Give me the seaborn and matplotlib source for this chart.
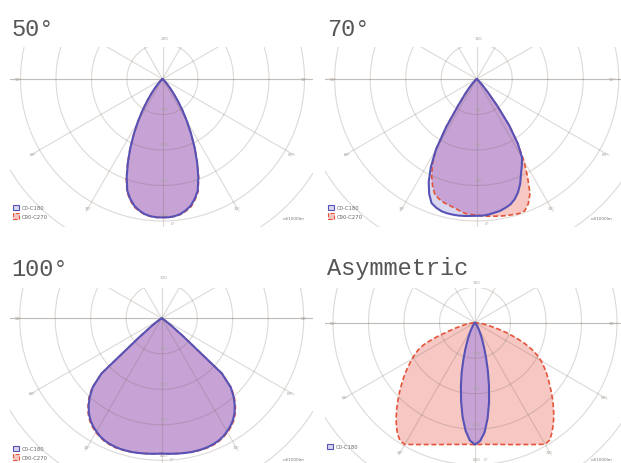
import numpy as np
import matplotlib.pyplot as plt
import seaborn as sns
from matplotlib.patches import Patch

# polar gamma angles (deg, 0 = straight down), intensities in cd/klm
gamma = [0, 2.5, 5, 7.5, 10, 12.5, 15, 17.5, 20, 22.5, 25, 27.5, 30, 32.5, 35, 37.5,
         40, 42.5, 45, 47.5, 50, 52.5, 55, 57.5, 60, 62.5, 65, 67.5, 70, 72.5, 75,
         77.5, 80, 82.5, 85, 87.5, 90]

titles = ["50°", "70°", "100°", "Asymmetric"]
ring_steps = [200, 150, 100, 150]

# 50° optic
p50_c0 = [780, 780, 776, 768, 752, 732, 700, 660, 590, 510, 430, 350, 276, 210, 150, 100,
          64, 38, 20, 10, 4, 0, 0, 0, 0, 0, 0, 0, 0, 0, 0, 0, 0, 0, 0, 0, 0]
p50_c180 = [780, 780, 776, 768, 752, 732, 700, 660, 590, 510, 430, 350, 276, 210, 150, 100,
            64, 38, 20, 10, 4, 0, 0, 0, 0, 0, 0, 0, 0, 0, 0, 0, 0, 0, 0, 0, 0]
p50_c90 = [780, 780, 777, 770, 756, 738, 706, 666, 596, 514, 432, 350, 276, 210, 150, 100,
           64, 38, 20, 10, 4, 0, 0, 0, 0, 0, 0, 0, 0, 0, 0, 0, 0, 0, 0, 0, 0]
p50_c270 = [780, 780, 777, 770, 756, 738, 706, 666, 596, 514, 432, 350, 276, 210, 150, 100,
            64, 38, 20, 10, 4, 0, 0, 0, 0, 0, 0, 0, 0, 0, 0, 0, 0, 0, 0, 0, 0]

# 70° optic
p70_c0 = [578, 578, 575, 570, 566, 558, 549, 533, 510, 480, 443, 413, 383, 323, 240, 143,
          75, 38, 18, 9, 5, 0, 0, 0, 0, 0, 0, 0, 0, 0, 0, 0, 0, 0, 0, 0, 0]
p70_c180 = [578, 579, 581, 582, 582, 581, 578, 570, 558, 525, 480, 420, 345, 240, 135, 83,
            53, 30, 15, 8, 3, 0, 0, 0, 0, 0, 0, 0, 0, 0, 0, 0, 0, 0, 0, 0, 0]
p70_c90 = [578, 579, 582, 585, 588, 591, 593, 596, 593, 570, 533, 465, 398, 323, 240, 143,
           75, 38, 18, 9, 5, 0, 0, 0, 0, 0, 0, 0, 0, 0, 0, 0, 0, 0, 0, 0, 0]
p70_c270 = [575, 573, 570, 561, 552, 546, 540, 531, 518, 488, 450, 405, 345, 240, 135, 83,
            53, 30, 15, 8, 3, 0, 0, 0, 0, 0, 0, 0, 0, 0, 0, 0, 0, 0, 0, 0, 0]

# 100° optic
p100_c0 = [381, 382, 383, 384, 385, 386, 386, 386, 385, 383, 380, 375, 368, 360, 350, 337,
           320, 300, 275, 230, 80, 35, 15, 7, 3, 0, 0, 0, 0, 0, 0, 0, 0, 0, 0, 0, 0]
p100_c180 = [381, 382, 383, 384, 385, 386, 386, 386, 385, 383, 380, 375, 368, 360, 350, 337,
             320, 300, 275, 230, 80, 35, 15, 7, 3, 0, 0, 0, 0, 0, 0, 0, 0, 0, 0, 0, 0]
p100_c90 = [381, 382, 383, 384, 385, 386, 387, 387, 387, 385, 382, 377, 371, 363, 353, 340,
            323, 303, 278, 232, 80, 35, 15, 7, 3, 0, 0, 0, 0, 0, 0, 0, 0, 0, 0, 0, 0]
p100_c270 = [381, 382, 383, 384, 385, 386, 387, 387, 387, 385, 382, 377, 371, 363, 353, 340,
             323, 303, 278, 232, 80, 35, 15, 7, 3, 0, 0, 0, 0, 0, 0, 0, 0, 0, 0, 0, 0]

# asymmetric optic
asym_c0 = [515, 500, 465, 408, 342, 273, 210, 155, 113, 83, 60, 42, 30, 21, 15, 9,
           6, 3, 0, 0, 0, 0, 0, 0, 0, 0, 0, 0, 0, 0, 0, 0, 0, 0, 0, 0, 0]
asym_c180 = [515, 498, 458, 402, 338, 275, 218, 163, 120, 86, 63, 44, 30, 21, 15, 9,
             6, 3, 0, 0, 0, 0, 0, 0, 0, 0, 0, 0, 0, 0, 0, 0, 0, 0, 0, 0, 0]
asym_c90 = [515, 515, 516, 519, 522, 527, 533, 540, 548, 557, 568, 580, 593, 588, 567, 543,
            518, 491, 465, 438, 413, 390, 368, 345, 323, 296, 263, 225, 180, 138, 98,
            66, 42, 26, 15, 8, 5]
asym_c270 = [515, 515, 516, 519, 522, 527, 533, 540, 548, 557, 568, 580, 594, 590, 572, 546,
             518, 489, 460, 432, 405, 380, 355, 330, 308, 285, 260, 225, 165, 112, 80,
             55, 38, 22, 12, 6, 3]

panels = [
    (p50_c0, p50_c180, p50_c90, p50_c270),
    (p70_c0, p70_c180, p70_c90, p70_c270),
    (p100_c0, p100_c180, p100_c90, p100_c270),
    (asym_c0, asym_c180, asym_c90, asym_c270),
]

BLUE = "#5752b5"
RED = "#e2553a"
BLUE_FILL = "#d9d7f0"
RED_FILL = "#f6c7c3"
MIX_FILL = "#c6a2d5"
GRID = (0.47, 0.42, 0.38, 0.25)
LABEL = "#aaa49e"

W, H = 621, 464
SCALE = 35.5  # px per ring
# left, right, top, bottom, centre x, centre y  (pixels)
rects = [
    (10, 313, 48, 228, 162.5, 80),
    (325, 621, 48, 228, 476.7, 80),
    (10, 313, 288.7, 464, 161.7, 319.3),
    (325, 621, 288.7, 464, 475, 323.7),
]
title_pos = [(11, 35.5), (327, 35.5), (11, 275.5), (327, 275.5)]
legend_pos = [(13, 206), (328, 206), (13, 447), (327, 445)]
legend_n = [2, 2, 2, 1]

sns.set_theme(style="white")
plt.rcParams["font.family"] = ["DejaVu Sans"]


def trace(right, left, step):
    g = np.radians(gamma)
    r = np.asarray(right, float) / step
    l = np.asarray(left, float) / step
    xs = np.concatenate([-l[::-1] * np.sin(g[::-1]), r[1:] * np.sin(g[1:])])
    ys = np.concatenate([-l[::-1] * np.cos(g[::-1]), -r[1:] * np.cos(g[1:])])
    return xs, ys


fig = plt.figure(figsize=(W / 100, H / 100), dpi=100)

for i, (data, rect) in enumerate(zip(panels, rects)):
    c0, c180, c90, c270 = data
    step = ring_steps[i]
    left, right, top, bottom, cx, cy = rect
    ax = fig.add_axes([left / W, 1 - bottom / H, (right - left) / W, (bottom - top) / H])
    x0, x1 = (left - cx) / SCALE, (right - cx) / SCALE
    y0, y1 = (cy - bottom) / SCALE, (cy - top) / SCALE
    ax.set_xlim(x0, x1)
    ax.set_ylim(y0, y1)
    ax.axis("off")

    # fills: red plane, blue plane, overlap
    bx, by = trace(c0, c180, step)
    rx, ry = trace(c90, c270, step)
    mx, my = trace(np.minimum(c0, c90), np.minimum(c180, c270), step)
    ax.fill(rx, ry, color=RED_FILL, lw=0, zorder=1)
    ax.fill(bx, by, color=BLUE_FILL, lw=0, zorder=1)
    ax.fill(mx, my, color=MIX_FILL, lw=0, zorder=1)

    # polar grid
    t = np.linspace(0, 2 * np.pi, 400)
    for k in range(1, 6):
        ax.plot(k * np.cos(t), k * np.sin(t), color=GRID, lw=0.8, zorder=2)
    for a in range(0, 360, 30):
        ar = np.radians(a)
        ax.plot([0, 4.3 * np.sin(ar)], [0, -4.3 * np.cos(ar)], color=GRID, lw=0.8, zorder=2)
        if a <= 90 or a >= 270:
            lab = a if a <= 180 else 360 - a
            px = np.clip(4.2 * np.sin(ar), x0 + 0.25, x1 - 0.25)
            py = -4.2 * np.cos(ar)
            if py < y0 + 0.12:
                # bottom label would fall off the crop: tuck it beside the 0° line
                py = y0 + 0.12
                px = px + 0.3
            ax.text(px, py, f"{lab}°", fontsize=3, color=LABEL,
                    ha="center", va="center", zorder=3)
    ax.plot([-6, 6], [0, 0], color=GRID, lw=0.8, zorder=2)
    for k in range(1, 5):
        ax.text(0.05, -k + 0.1, f"{k * step}", fontsize=3, color=LABEL,
                ha="center", va="bottom", zorder=3)
    ax.text(0.05, 1.1, f"{step}", fontsize=3, color=LABEL, ha="center", va="bottom", zorder=3)

    # outlines
    sns.lineplot(x=rx, y=ry, sort=False, estimator=None, ax=ax, color=RED, lw=1.2,
                 linestyle=(0, (3, 1.6)), legend=False, zorder=4)
    sns.lineplot(x=bx, y=by, sort=False, estimator=None, ax=ax, color=BLUE, lw=1.5,
                 legend=False, zorder=5)

    # unit label
    ax.text((right - 8 - cx) / SCALE, (cy - (top + 171)) / SCALE, "cd/1000lm",
            fontsize=3, color="#777777", ha="right", va="center", zorder=3)

    handles = [Patch(facecolor=BLUE_FILL, edgecolor=BLUE, linewidth=0.8),
               Patch(facecolor=RED_FILL, edgecolor=RED, linestyle="--", linewidth=0.8)]
    labels = ["C0-C180", "C90-C270"]
    lx, ly = legend_pos[i]
    fig.legend(handles[:legend_n[i]], labels[:legend_n[i]], loc="upper left",
               bbox_to_anchor=(lx / W, 1 - ly / H), bbox_transform=fig.transFigure,
               fontsize=3.8, frameon=False, handlelength=1.2, handleheight=1.2,
               borderpad=0, borderaxespad=0, labelspacing=0.5, handletextpad=0.5,
               labelcolor="#666666")

    tx, ty = title_pos[i]
    fig.text(tx / W, 1 - ty / H, titles[i], fontsize=17, color="#555555",
             family=["Liberation Mono", "DejaVu Sans Mono"], ha="left", va="baseline")

fig.savefig("out.png", dpi=100)
